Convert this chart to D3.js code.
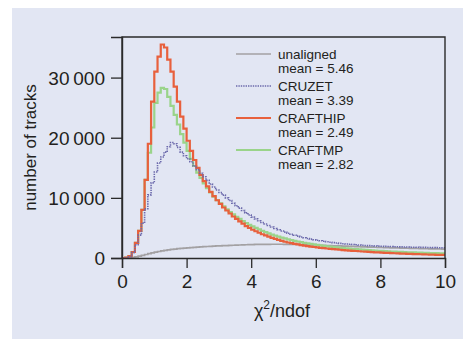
<!DOCTYPE html>
<html><head><meta charset="utf-8">
<script src="https://cdn.jsdelivr.net/npm/d3@7"></script>
<style>
html,body{margin:0;padding:0;background:#fff;}
svg{display:block;}
text{font-family:"Liberation Sans",Arial,sans-serif;fill:#231f20;}
</style></head>
<body><svg id="c" width="463" height="339"></svg>
<script>
// bin left edges 0.0, 0.1, ... 9.9 (bin width 0.1)
const binWidth = 0.1;
const unaligned = [0,0,30,100,200,320,450,580,720,850,970,1080,1180,1270,1350,1420,1490,1550,1600,1650,1700,1740,1780,1820,1850,1880,1910,1940,1970,2000,2020,2050,2070,2100,2120,2140,2160,2180,2200,2220,2240,2250,2260,2270,2280,2280,2290,2290,2290,2290,2280,2280,2270,2260,2250,2240,2220,2200,2180,2160,2140,2120,2100,2080,2060,2040,2020,2000,1980,1960,1940,1920,1900,1880,1860,1840,1820,1800,1790,1770,1750,1730,1720,1700,1680,1670,1650,1640,1620,1610,1590,1580,1570,1550,1540,1530,1520,1510,1500,1490];
const cruzet = [0,0,200,900,2200,3800,5800,8200,10500,12500,14300,15800,16800,17600,18500,19200,19000,18400,17600,17000,16500,16000,15300,14700,14100,13500,12900,12300,11800,11300,10900,10450,10000,9550,9100,8700,8300,7900,7500,7150,6800,6500,6200,5900,5650,5400,5150,4900,4700,4500,4300,4120,3950,3790,3640,3500,3370,3250,3140,3040,2950,2860,2780,2700,2630,2560,2500,2440,2380,2330,2280,2240,2200,2160,2120,2090,2060,2030,2000,1980,1960,1940,1920,1900,1880,1860,1850,1830,1820,1800,1790,1780,1770,1760,1750,1740,1730,1720,1710,1700];
const crafthip = [0,50,300,1000,2500,4500,8000,13000,19000,26000,31000,33500,35500,35000,33000,31000,28500,26000,23500,21500,19500,17800,16300,15000,13800,12800,11900,11000,10300,9600,9000,8400,7900,7400,6900,6500,6100,5700,5300,5000,4700,4450,4200,3950,3750,3550,3350,3180,3000,2850,2700,2580,2460,2350,2250,2150,2060,1980,1900,1830,1760,1700,1640,1580,1520,1470,1420,1370,1320,1280,1240,1200,1160,1120,1080,1050,1010,980,950,920,890,860,840,810,790,760,740,720,700,680,660,640,620,600,585,570,550,535,520,505];
const craftmp = [0,50,300,1000,2500,4500,8000,13000,17500,21700,25800,27500,28300,28100,26800,25300,23800,22200,20600,19200,17800,16500,15300,14200,13300,12400,11600,10900,10200,9600,9100,8600,8100,7650,7250,6850,6500,6150,5800,5500,5250,5000,4750,4500,4300,4100,3900,3720,3550,3400,3250,3110,2980,2860,2740,2630,2530,2430,2340,2250,2170,2090,2020,1950,1880,1820,1760,1700,1650,1600,1550,1500,1460,1420,1380,1340,1300,1270,1230,1200,1170,1140,1110,1080,1060,1030,1010,990,960,940,920,900,880,860,850,830,810,800,780,770];
const seriesNames = ["unaligned","CRUZET","CRAFTHIP","CRAFTMP"];
const seriesMeans = ["5.46","3.39","2.49","2.82"];
const seriesColors = ["#a3a1a3","#6c6aac","#e8603c","#9ad48a"];
const xTicks = [0,2,4,6,8,10];
const yTicks = [0,10000,20000,30000];
const xLabel = "χ";
const yLabel = "number of tracks";

const svg = d3.select("#c");
svg.append("rect").attr("x",12).attr("y",8).attr("width",451).attr("height",331).attr("fill","#e2e6f3");

const L=122, R=445, T=37, B=258;
const x = d3.scaleLinear().domain([0,10]).range([L,R]);
const y = d3.scaleLinear().domain([0,36750]).range([B,T]);

const fmt = v => v===0 ? "0" : d3.format(",")(v).replace(",", "\u2009");

function pts(arr){
  const p = arr.map((v,i)=>[i*binWidth, v]);
  p.push([10, arr[arr.length-1]]);
  return p;
}
const line = d3.line().x(d=>x(d[0])).y(d=>y(d[1])).curve(d3.curveStepAfter);

const g = svg.append("g");
const data = [unaligned, cruzet, crafthip, craftmp];
const styles = [
  {w:1.7, dash:null},
  {w:1.6, dash:"1.4,1"},
  {w:2.2, dash:null},
  {w:2.2, dash:null}
];
const order = [0,3,2,1];
order.forEach(i=>{
  g.append("path").attr("d", line(pts(data[i]))).attr("fill","none")
   .attr("stroke", seriesColors[i]).attr("stroke-width", styles[i].w)
   .attr("stroke-dasharray", styles[i].dash);
});

// frame
svg.append("path").attr("d",`M${L},${B}V${T}H${R}V${B}`).attr("fill","none").attr("stroke","#2a2a2a").attr("stroke-width",1.4);

// axes
const xa = svg.append("g").attr("transform",`translate(0,${B})`)
  .call(d3.axisBottom(x).tickValues(xTicks).tickSize(10).tickPadding(7).tickFormat(d3.format("d")));
const ya = svg.append("g").attr("transform",`translate(${L},0)`)
  .call(d3.axisLeft(y).tickValues(yTicks).tickSize(11).tickPadding(6).tickFormat(fmt));
[xa,ya].forEach(a=>{
  a.select(".domain").attr("stroke","#2a2a2a").attr("stroke-width",1.4);
  a.selectAll(".tick line").attr("stroke","#2a2a2a").attr("stroke-width",1.3);
  a.selectAll("text").attr("font-family","Liberation Sans, Arial, sans-serif").attr("font-size",19).attr("fill","#231f20");
});
ya.selectAll("text").attr("dy","0.35em");

// axis titles
svg.append("text").attr("transform","translate(36,147.5) rotate(-90)").attr("text-anchor","middle")
  .attr("font-size",17).text(yLabel);
const xt = svg.append("text").attr("x",282).attr("y",317).attr("text-anchor","middle").attr("font-size",18);
xt.append("tspan").text(xLabel);
xt.append("tspan").attr("font-size",12).attr("dy",-8).text("2");
xt.append("tspan").attr("dy",8).text("/ndof");

// legend
const lineY = [54, 86, 118, 150];
seriesNames.forEach((n,i)=>{
  svg.append("line").attr("x1",236).attr("x2",271).attr("y1",lineY[i]).attr("y2",lineY[i])
    .attr("stroke",seriesColors[i]).attr("stroke-width",styles[i].w).attr("stroke-dasharray",styles[i].dash);
  svg.append("text").attr("x",278).attr("y",lineY[i]+4.5).attr("font-size",13.5).text(n);
  svg.append("text").attr("x",278).attr("y",lineY[i]+19).attr("font-size",13.5).text("mean = "+seriesMeans[i]);
});
</script></body></html>
